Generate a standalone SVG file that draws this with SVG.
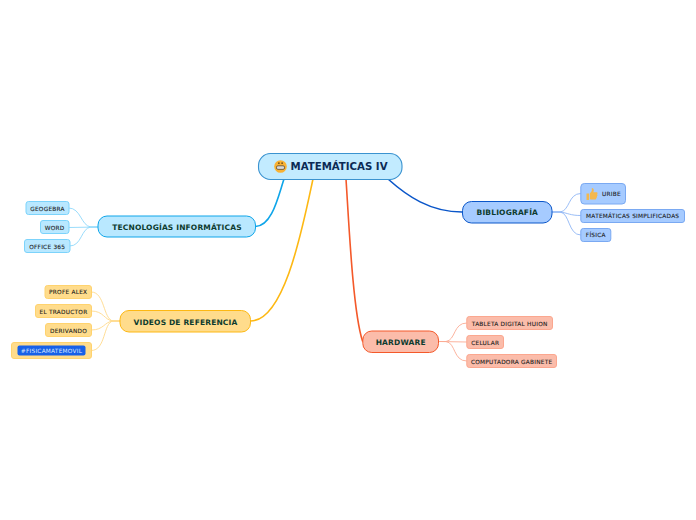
<svg xmlns="http://www.w3.org/2000/svg" width="696" height="520" viewBox="0 0 696 520">
<style>
text{font-family:"DejaVu Sans","Liberation Sans",sans-serif;}
.c{fill:none;stroke-linecap:round}
.b{stroke-width:1.6}
.s{stroke-width:.9}
.main{font-size:10.2px;font-weight:bold;fill:#0b2a55}
.t{font-size:7.5px;font-weight:bold;fill:#0d3b2e;text-anchor:middle;letter-spacing:.16px}
.l{font-size:5.8px;fill:#1c1c1c;text-anchor:middle;letter-spacing:.25px;stroke:#1c1c1c;stroke-width:.1px}
.blue{fill:#b9e8ff;stroke:#0ea5e9}
.lb{fill:#b9e8ff;stroke:#7cd3fb}
.yel{fill:#ffdc8c;stroke:#fdb813}
.ly{fill:#ffdc8c;stroke:#ffd36e}
.nav{fill:#a6cbff;stroke:#0a56c9}
.ln{fill:#a6cbff;stroke:#7aa9f2}
.red{fill:#fbbcaa;stroke:#f4592a}
.lr{fill:#fbbcaa;stroke:#fba78f}
</style>
<rect width="696" height="520" fill="#ffffff"/>
<g id="connectors">
<path class="c b" stroke="#0ea5e9" d="M284 179C278 197 272 226 255.500 226.500"/>
<path class="c b" stroke="#fdb813" d="M313 179C303 225 285 321 250.500 321"/>
<path class="c b" stroke="#f4592a" d="M346 179C349 225 353 312 362.500 341"/>
<path class="c b" stroke="#0a56c9" d="M388 179C407 196 430 212 462 212"/>
<g stroke="#8ed8fb">
<path class="c s" d="M98 227H91C81 226 81 208 69 208"/>
<path class="c s" d="M98 227L69 227.500"/>
<path class="c s" d="M98 227H91C81 228 82 246 70 246"/>
</g>
<g stroke="#ffd98a">
<path class="c s" d="M120 321H113C103 319 105 292 91.500 292"/>
<path class="c s" d="M120 321H113C104 320 104 311 91.500 311"/>
<path class="c s" d="M120 321H113C104 322 104 330 91.500 330"/>
<path class="c s" d="M120 321H113C103 323 106 350.500 91.500 350.500"/>
</g>
<g stroke="#8fb6f5">
<path class="c s" d="M552 212H560C570 211 568 193.500 580.500 193.500"/>
<path class="c s" d="M552 212H560C568 213 570 215.500 580.500 215.500"/>
<path class="c s" d="M552 212H560C570 213 568 235 580.500 235"/>
</g>
<g stroke="#fbaa93">
<path class="c s" d="M438.500 341.500H446C456 340 453 323 466.500 323"/>
<path class="c s" d="M438.500 341.500L466.500 342"/>
<path class="c s" d="M438.500 341.500H446C456 343 453 361 466.500 361"/>
</g>
</g>
<g id="central">
<rect x="258.500" y="153.500" width="143.500" height="26" rx="12" fill="#c2ebff" stroke="#3a93d0" stroke-width="1.100"/>
<circle cx="280.500" cy="166.500" r="6.300" fill="#f9b233"/>
<rect x="276.500" y="165.800" width="8" height="3.600" rx="1.400" fill="#d8d8d8" stroke="#4d3a20" stroke-width=".7"/>
<rect x="278.300" y="162.300" width="1.200" height="1.800" rx=".5" fill="#4a3010"/>
<rect x="281.500" y="162.300" width="1.200" height="1.800" rx=".5" fill="#4a3010"/>
<text class="main" x="290.500" y="170">MATEMÁTICAS IV</text>
</g>
<g id="tecnologias">
<rect class="blue" x="98" y="216" width="157.500" height="21" rx="9"/>
<text class="t" x="177" y="230">TECNOLOGÍAS INFORMÁTICAS</text>
</g>
<g id="geogebra"><rect class="lb" x="26" y="201.500" width="43" height="13" rx="2.500"/><text class="l" x="47.500" y="210.700">GEOGEBRA</text></g>
<g id="word"><rect class="lb" x="40.500" y="220.500" width="28.500" height="13" rx="2.500"/><text class="l" x="54.700" y="229.700">WORD</text></g>
<g id="office"><rect class="lb" x="24.500" y="239.500" width="45.500" height="13" rx="2.500"/><text class="l" x="47.200" y="248.700">OFFICE 365</text></g>
<g id="videos">
<rect class="yel" x="120" y="310.500" width="130.500" height="21.500" rx="9"/>
<text class="t" x="185.500" y="324.500">VIDEOS DE REFERENCIA</text>
</g>
<g id="profe"><rect class="ly" x="45" y="285.500" width="46.500" height="13" rx="2.500"/><text class="l" x="68.200" y="294.200">PROFE ALEX</text></g>
<g id="traductor"><rect class="ly" x="35.500" y="304.500" width="56" height="13" rx="2.500"/><text class="l" x="63.500" y="313.700">EL TRADUCTOR</text></g>
<g id="derivando"><rect class="ly" x="45.500" y="323.500" width="46" height="13" rx="2.500"/><text class="l" x="68.500" y="332.700">DERIVANDO</text></g>
<g id="fisicamatemovil"><rect class="ly" x="11.500" y="342.500" width="80" height="16" rx="2.500"/><rect x="17.500" y="345.500" width="68" height="10" rx="2" fill="#1760e8"/><text class="l" x="51.500" y="352.700" style="fill:#dfeaff;stroke:none">#FISICAMATEMOVIL</text></g>
<g id="bibliografia">
<rect class="nav" x="462.500" y="201.500" width="89.500" height="21.500" rx="9"/>
<text class="t" x="507.300" y="215">BIBLIOGRAFÍA</text>
</g>
<g id="uribe"><rect class="ln" x="580.800" y="183.500" width="44.700" height="20.500" rx="3.500"/>
<path d="M586.500 193.500h2.500v6.500h-2.500zM589.800 193.500l2-2.500v-3c1.500 0 2 1 2 2.300l-.4 2h3.300c1 0 1.100 1.600.4 2 .6.500.5 1.700-.2 2 .3.700 0 1.600-.6 1.800.1.800-.4 1.500-1.200 1.500h-3.200c-1 0-1.400-.4-2.100-.7z" fill="#f5b84d"/>
<text class="l" x="611.500" y="196">URIBE</text></g>
<g id="matematicas"><rect class="ln" x="580.800" y="209.500" width="103.700" height="13" rx="2.500"/><text class="l" x="632.700" y="218">MATEMÁTICAS SIMPLIFICADAS</text></g>
<g id="fisica"><rect class="ln" x="580.800" y="228.500" width="30" height="13" rx="2.500"/><text class="l" x="595.800" y="237">FÍSICA</text></g>
<g id="hardware">
<rect class="red" x="362.800" y="331" width="75.700" height="21.500" rx="9"/>
<text class="t" x="400.700" y="345">HARDWARE</text>
</g>
<g id="tableta"><rect class="lr" x="466.800" y="316.500" width="85.700" height="13" rx="2.500"/><text class="l" x="509.700" y="325.800">TABLETA DIGITAL HUION</text></g>
<g id="celular"><rect class="lr" x="466.800" y="335.500" width="36.700" height="13" rx="2.500"/><text class="l" x="485.200" y="344.800">CELULAR</text></g>
<g id="computadora"><rect class="lr" x="466.800" y="354.500" width="89.700" height="13" rx="2.500"/><text class="l" x="511.700" y="363.800">COMPUTADORA GABINETE</text></g>
</svg>
